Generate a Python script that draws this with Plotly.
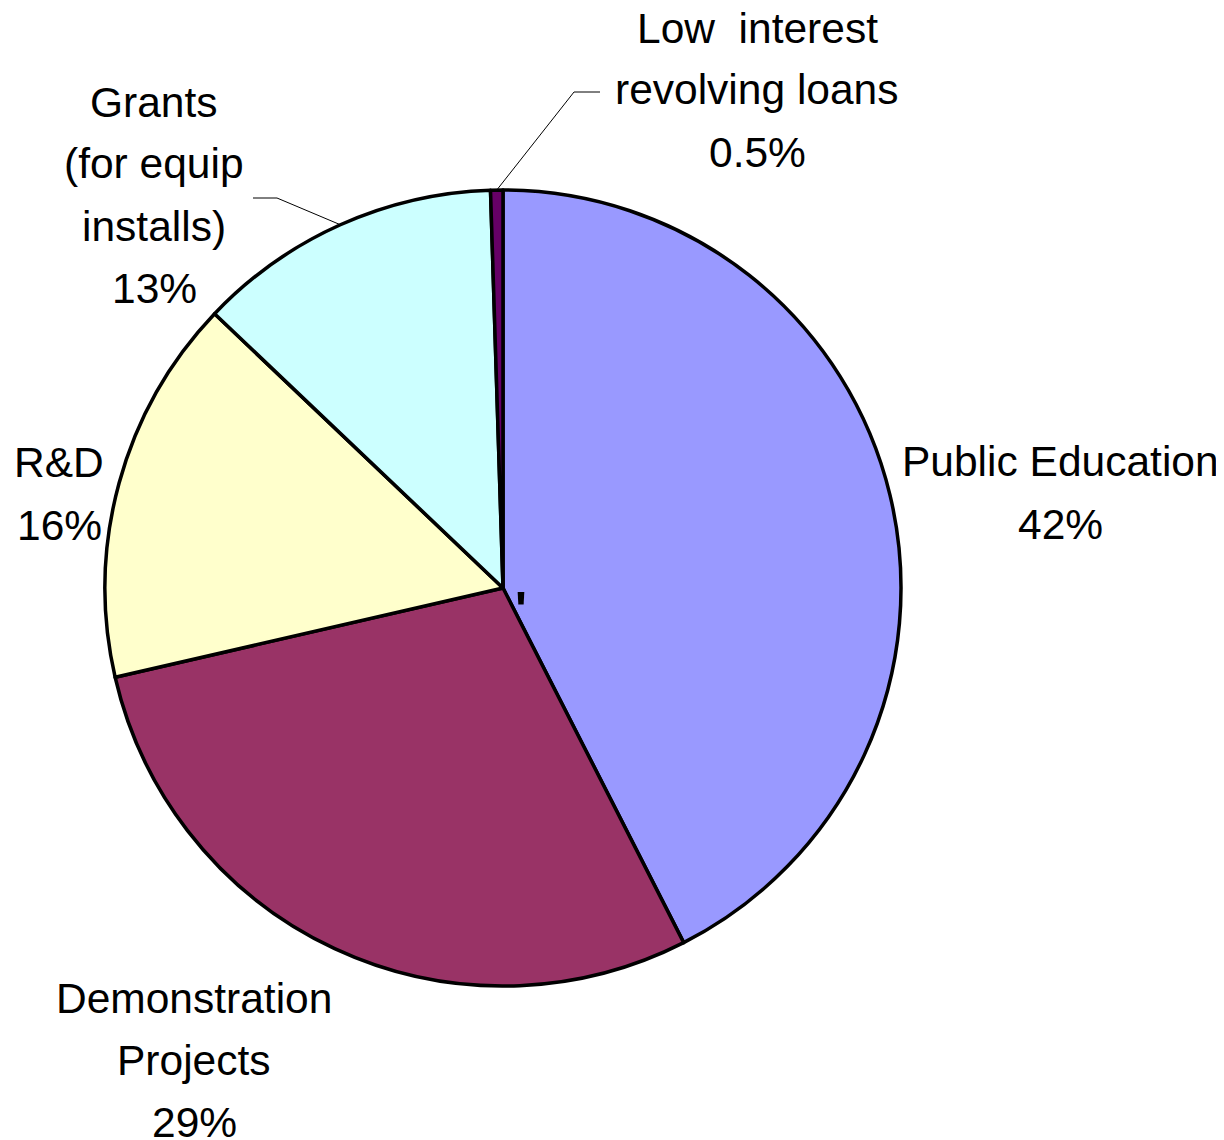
import math
import plotly.graph_objects as go

# ---- data ----
categories = ["Public Education", "Demonstration Projects", "R&D",
              "Grants (for equip installs)", "Low interest revolving loans"]
values = [42.5, 28.9, 15.7, 12.4, 0.5]
pct_text = ["42%", "29%", "16%", "13%", "0.5%"]
colors = ["#9999FF", "#993366", "#FFFFCC", "#CCFFFF", "#660066"]
label_lines = [
    ["Public Education"],
    ["Demonstration", "Projects"],
    ["R&D"],
    ["Grants", "(for equip", "installs)"],
    ["Low  interest", "revolving loans"],
]

OFF = 8  # page body margin
W, H = 1224 - OFF, 1140 - OFF
CX, CY, R = 503, 588, 398
FONT = dict(family="Liberation Sans, Arial, sans-serif", size=42.5, color="black")
LINE_H = 62

def px(x):
    return (x - OFF) / W

def py(y):
    return 1 - (y - OFF) / H

fig = go.Figure(go.Pie(
    labels=categories, values=values, sort=False, direction="clockwise",
    rotation=0, textinfo="none", hoverinfo="label+percent",
    marker=dict(colors=colors, line=dict(color="black", width=3.5)),
    domain=dict(x=[px(CX - R), px(CX + R)], y=[py(CY + R), py(CY - R)]),
    showlegend=False,
))

# label block anchor: (center x, first line center y)
label_pos = [(1060, 462), (194, 998), (59, 463), (154, 102), (757, 28)]

annotations = []
for lines, pct, (lx, ly) in zip(label_lines, pct_text, label_pos):
    for i, t in enumerate(lines + [pct]):
        annotations.append(dict(
            x=px(lx), y=py(ly + i * LINE_H), xref="paper", yref="paper",
            text=t, showarrow=False, font=FONT, xanchor="center", yanchor="middle",
        ))
annotations.append(dict(x=px(521), y=py(610), xref="paper", yref="paper", text="<b>'</b>",
                        showarrow=False, font=dict(family="Liberation Sans", size=50, color="black"),
                        xanchor="center", yanchor="middle"))

# leader lines to the mid-angle of the two small top slices
total = sum(values)
cum = 0
mids = []
for v in values:
    mids.append((cum + v / 2) / total * 2 * math.pi)
    cum += v

shapes = []
elbows = {4: ((600, 92), (574, 92)), 3: ((253, 198), (277, 198))}
for idx, (p0, p1) in elbows.items():
    a = mids[idx]
    tx, ty = CX + R * math.sin(a), CY - R * math.cos(a)
    for (x0, y0), (x1, y1) in [(p0, p1), (p1, (tx, ty))]:
        shapes.append(dict(type="line", xref="paper", yref="paper",
                           x0=px(x0), y0=py(y0), x1=px(x1), y1=py(y1),
                           line=dict(color="black", width=1)))

fig.update_layout(
    width=W, height=H, margin=dict(l=0, r=0, t=0, b=0),
    paper_bgcolor="white", plot_bgcolor="white",
    annotations=annotations, shapes=shapes,
)

fig.write_html("out.html")
